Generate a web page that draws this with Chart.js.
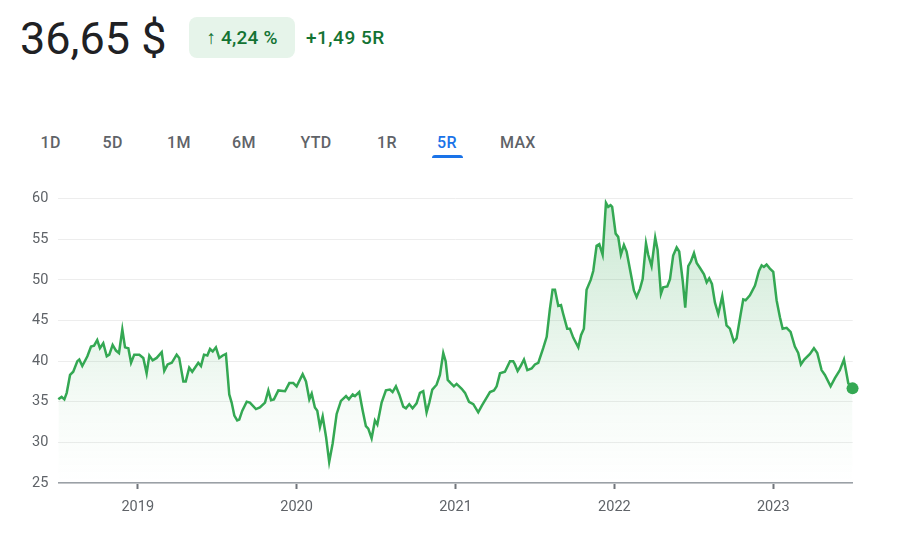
<!DOCTYPE html>
<html lang="pl">
<head>
  <meta charset="UTF-8">
  <title>Kurs akcji - 5R</title>
  <script src="https://cdn.jsdelivr.net/npm/chart.js"></script>
  <style>
    body { margin: 0; background: #fff; font-family: Roboto, Arial, sans-serif; width: 908px; height: 534px; overflow: hidden; position: relative; }
    .cena { position: absolute; left: 20px; top: 17px; font-size: 45px; line-height: 44px; color: #202124; }
    .zmiana { position: absolute; left: 189px; top: 17px; width: 106px; height: 41px; border-radius: 8px; background: #e6f4ea;
      color: #137333; font-size: 19px; font-weight: 500; line-height: 41px; text-align: center; letter-spacing: 0.2px; }
    .roznica { position: absolute; left: 306px; top: 17px; height: 41px; line-height: 41px; color: #137333; font-size: 19px; font-weight: 500; letter-spacing: 0.5px; }
    .zakres { position: absolute; top: 134.8px; font-size: 16px; line-height: 16px; font-weight: 500; color: #5f6368; letter-spacing: 0.3px; }
    .zakres.aktywny { color: #1a73e8; }
    .podkresl { position: absolute; left: 432px; top: 155px; width: 31px; height: 3px; background: #1a73e8; border-radius: 3px 3px 0 0; }
    .wykres { position: absolute; left: 0; top: 180px; width: 870px; height: 345px; }
  </style>
</head>
<body>
  <div class="cena">36,65 $</div>
  <div class="zmiana">↑ 4,24 %</div>
  <div class="roznica">+1,49 5R</div>

  <span class="zakres" style="left:40.5px">1D</span>
  <span class="zakres" style="left:102.5px">5D</span>
  <span class="zakres" style="left:167px">1M</span>
  <span class="zakres" style="left:232px">6M</span>
  <span class="zakres" style="left:300.5px">YTD</span>
  <span class="zakres" style="left:377px">1R</span>
  <span class="zakres aktywny" style="left:437px">5R</span>
  <span class="zakres" style="left:500px">MAX</span>
  <div class="podkresl"></div>

  <div class="wykres"><canvas id="wykres"></canvas></div>

  <script>
    // czas jako ulamek roku
    const times = [
      2018.500, 2018.521, 2018.538, 2018.553, 2018.574, 2018.594, 2018.620, 2018.632, 2018.651, 2018.683,
      2018.706, 2018.725, 2018.745, 2018.762, 2018.783, 2018.805, 2018.821, 2018.842, 2018.863, 2018.882,
      2018.903, 2018.920, 2018.941, 2018.958, 2018.978, 2019.010, 2019.035, 2019.056, 2019.073, 2019.094,
      2019.119, 2019.151, 2019.167, 2019.188, 2019.214, 2019.245, 2019.261, 2019.287, 2019.302, 2019.324,
      2019.343, 2019.381, 2019.398, 2019.417, 2019.438, 2019.455, 2019.472, 2019.492, 2019.513, 2019.535,
      2019.555, 2019.576, 2019.591, 2019.608, 2019.626, 2019.639, 2019.658, 2019.686, 2019.706, 2019.744,
      2019.769, 2019.801, 2019.822, 2019.839, 2019.857, 2019.885, 2019.927, 2019.954, 2019.979, 2020.000,
      2020.038, 2020.059, 2020.080, 2020.095, 2020.115, 2020.130, 2020.147, 2020.164, 2020.185, 2020.205,
      2020.227, 2020.252, 2020.279, 2020.311, 2020.329, 2020.353, 2020.367, 2020.394, 2020.416, 2020.436,
      2020.451, 2020.472, 2020.493, 2020.508, 2020.535, 2020.562, 2020.587, 2020.604, 2020.625, 2020.646,
      2020.671, 2020.688, 2020.709, 2020.730, 2020.755, 2020.776, 2020.797, 2020.818, 2020.835, 2020.854,
      2020.881, 2020.902, 2020.923, 2020.938, 2020.951, 2020.970, 2020.990, 2021.007, 2021.039, 2021.060,
      2021.085, 2021.112, 2021.143, 2021.165, 2021.196, 2021.217, 2021.242, 2021.259, 2021.280, 2021.311,
      2021.343, 2021.363, 2021.374, 2021.391, 2021.410, 2021.431, 2021.452, 2021.479, 2021.500, 2021.521,
      2021.552, 2021.574, 2021.594, 2021.611, 2021.626, 2021.647, 2021.664, 2021.678, 2021.703, 2021.720,
      2021.741, 2021.773, 2021.790, 2021.808, 2021.825, 2021.851, 2021.867, 2021.888, 2021.905, 2021.926,
      2021.947, 2021.961, 2021.976, 2021.986, 2022.008, 2022.024, 2022.041, 2022.060, 2022.077, 2022.104,
      2022.123, 2022.140, 2022.161, 2022.178, 2022.199, 2022.213, 2022.234, 2022.257, 2022.272, 2022.293,
      2022.307, 2022.333, 2022.350, 2022.370, 2022.392, 2022.408, 2022.430, 2022.446, 2022.465, 2022.482,
      2022.501, 2022.518, 2022.538, 2022.564, 2022.581, 2022.597, 2022.614, 2022.633, 2022.654, 2022.679,
      2022.706, 2022.727, 2022.752, 2022.769, 2022.795, 2022.811, 2022.826, 2022.853, 2022.885, 2022.910,
      2022.927, 2022.941, 2022.958, 2022.979, 2023.000, 2023.021, 2023.042, 2023.059, 2023.084, 2023.109,
      2023.136, 2023.157, 2023.174, 2023.195, 2023.231, 2023.256, 2023.277, 2023.304, 2023.325, 2023.361,
      2023.388, 2023.419, 2023.445, 2023.472, 2023.499
    ];

    const prices = [
      35.3, 35.6, 35.3, 36.1, 38.3, 38.7, 40.0, 40.2, 39.4, 40.6,
      41.8, 41.9, 42.6, 41.6, 42.2, 40.6, 40.8, 42.0, 41.3, 41.0,
      43.9, 41.7, 41.6, 39.8, 40.8, 40.8, 40.4, 38.5, 40.7, 40.1,
      40.4, 41.1, 38.8, 39.6, 39.8, 40.8, 40.4, 37.5, 37.5, 39.2,
      38.7, 39.8, 39.4, 40.8, 40.7, 41.5, 41.2, 41.7, 40.4, 40.7,
      40.9, 35.9, 34.9, 33.3, 32.7, 32.8, 33.9, 35.0, 34.9, 34.1,
      34.3, 34.9, 36.4, 35.2, 35.3, 36.4, 36.3, 37.3, 37.3, 36.9,
      38.4, 37.5, 35.3, 36.0, 34.3, 33.9, 31.9, 33.2, 30.7, 27.6,
      29.9, 33.5, 35.1, 35.7, 35.3, 35.9, 35.7, 36.2, 33.9, 32.0,
      31.7, 30.5, 32.7, 32.2, 34.9, 36.4, 36.5, 36.2, 36.9, 35.9,
      34.4, 34.2, 34.7, 34.2, 34.8, 36.1, 36.3, 33.7, 34.9, 36.5,
      37.1, 38.3, 41.0, 40.0, 37.7, 37.3, 36.9, 37.2, 36.6, 36.1,
      35.0, 34.7, 33.7, 34.5, 35.5, 36.2, 36.4, 36.9, 38.5, 38.7,
      40.0, 40.0, 39.6, 38.8, 39.4, 40.2, 38.9, 39.1, 39.6, 39.8,
      41.6, 43.0, 46.4, 48.8, 48.8, 46.8, 46.9, 45.8, 44.0, 44.0,
      42.9, 41.7, 43.2, 44.0, 48.8, 50.0, 51.1, 54.2, 54.4, 53.1,
      59.5, 59.0, 59.2, 59.0, 55.7, 55.3, 53.1, 54.3, 53.5, 50.7,
      48.7, 47.9, 48.9, 50.1, 54.5, 53.1, 51.7, 55.2, 53.7, 48.3,
      49.1, 49.2, 50.1, 53.0, 54.0, 53.5, 49.9, 46.6, 51.7, 52.3,
      53.3, 52.1, 51.5, 50.7, 49.7, 50.2, 49.5, 47.2, 45.8, 48.0,
      44.4, 44.0, 42.4, 42.8, 45.8, 47.6, 47.5, 48.1, 49.3, 51.1,
      51.8, 51.6, 51.9, 51.4, 51.0, 47.5, 45.4, 44.0, 44.1, 43.6,
      41.8, 41.0, 39.6, 40.2, 40.9, 41.6, 41.0, 38.9, 38.3, 36.9,
      37.9, 38.9, 40.2, 37.3, 36.65
    ];

    const yearTicks = [2019, 2020, 2021, 2022, 2023];
    const priceTicks = [25, 30, 35, 40, 45, 50, 55, 60];

    const zielony = "#34a853";
    const ostatni = prices.length - 1;

    const gradient = ctx => {
      const a = ctx.chart.chartArea;
      if (!a) return "transparent";
      const g = ctx.chart.ctx.createLinearGradient(0, a.top, 0, a.bottom);
      g.addColorStop(0, "rgba(52,168,83,0.26)");
      g.addColorStop(0.75, "rgba(52,168,83,0.04)");
      g.addColorStop(1, "rgba(52,168,83,0)");
      return g;
    };

    new Chart(document.getElementById("wykres"), {
      type: "line",
      data: {
        datasets: [{
          data: times.map((t, i) => ({ x: t, y: prices[i] })),
          borderColor: zielony,
          borderWidth: 2.5,
          backgroundColor: gradient,
          fill: "start",
          tension: 0,
          clip: false,
          pointRadius: ctx => ctx.dataIndex === ostatni ? 6 : 0,
          pointBackgroundColor: zielony,
          pointBorderWidth: 0,
          pointHoverRadius: 0
        }]
      },
      options: {
        responsive: true,
        maintainAspectRatio: false,
        animation: false,
        events: [],
        layout: { padding: { top: 13, right: 17.3, bottom: 0, left: 0 } },
        plugins: { legend: { display: false }, tooltip: { enabled: false } },
        scales: {
          x: {
            type: "linear",
            min: 2018.5,
            max: 2023.5,
            afterBuildTicks: s => { s.ticks = yearTicks.map(v => ({ value: v })); },
            afterFit: s => { s.height = 42; },
            border: { display: true, color: "#9aa0a6", width: 1.5 },
            grid: { display: true, drawOnChartArea: false, drawTicks: true, tickLength: 6, tickWidth: 2, tickColor: "#70757a", color: "#70757a" },
            ticks: { padding: 10, color: "#5f6368", font: { family: "Roboto", size: 14.5 }, callback: v => String(v), maxRotation: 0 }
          },
          y: {
            min: 25,
            max: 60,
            afterBuildTicks: s => { s.ticks = priceTicks.map(v => ({ value: v })); },
            afterFit: s => { s.width = 58.3; },
            border: { display: false },
            grid: { color: "#ededed", lineWidth: 1, drawTicks: false },
            ticks: { padding: 10, color: "#5f6368", font: { family: "Roboto", size: 14.5 } }
          }
        }
      }
    });
  </script>
</body>
</html>
